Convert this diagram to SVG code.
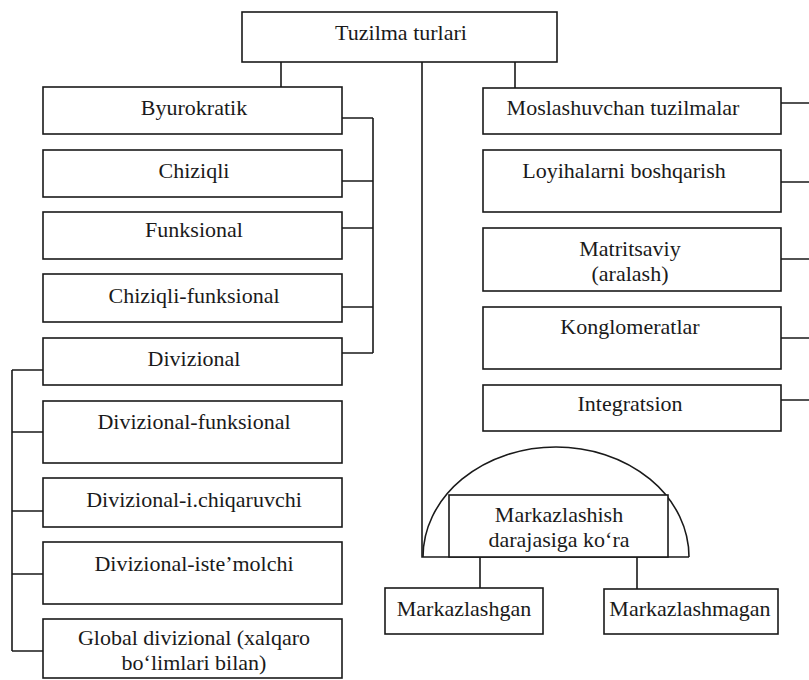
<svg xmlns="http://www.w3.org/2000/svg" width="809" height="680" viewBox="0 0 809 680">
<style>
.box{fill:#fff;stroke:#1a1a1a;stroke-width:1.6}
.ln{fill:none;stroke:#1a1a1a;stroke-width:1.6}
text{font-family:"Liberation Serif","Times New Roman",serif;font-size:22px;fill:#1a1a1a;text-anchor:middle}
</style>
<rect width="809" height="680" fill="#fff"/>
<g id="connectors">
<path class="ln" d="M281 62V87M515 62V88M422 62V557H689"/>
<path class="ln" d="M342 118H373M342 181H373M342 228H373M342 307H373M342 353H373M373 118V353"/>
<path class="ln" d="M43 370H12M43 432H12M43 511H12M43 574H12M43 651H12M12 370V651"/>
<path class="ln" d="M781 103H809M781 182H809M781 259H809M781 338H809M781 400H809"/>
<path class="ln" d="M423 557A133 110 0 0 1 689 557"/>
<path class="ln" d="M480 557V588M637 557V589"/>
</g>
<g id="n-root"><rect class="box" x="242" y="12" width="315" height="50"/><text x="401" y="40">Tuzilma turlari</text></g>
<g id="n-byurokratik"><rect class="box" x="43" y="87" width="299" height="47"/><text x="194" y="115">Byurokratik</text></g>
<g id="n-chiziqli"><rect class="box" x="43" y="150" width="299" height="47"/><text x="194" y="178">Chiziqli</text></g>
<g id="n-funksional"><rect class="box" x="43" y="212" width="299" height="47"/><text x="194" y="237">Funksional</text></g>
<g id="n-chiziqli-funksional"><rect class="box" x="43" y="274" width="299" height="48"/><text x="194" y="303">Chiziqli-funksional</text></g>
<g id="n-divizional"><rect class="box" x="43" y="338" width="299" height="47"/><text x="194" y="366">Divizional</text></g>
<g id="n-div-funksional"><rect class="box" x="43" y="401" width="299" height="62"/><text x="194" y="429">Divizional-funksional</text></g>
<g id="n-div-ichiqaruvchi"><rect class="box" x="43" y="478" width="299" height="49"/><text x="194" y="507">Divizional-i.chiqaruvchi</text></g>
<g id="n-div-istemolchi"><rect class="box" x="43" y="542" width="299" height="62"/><text x="194" y="571">Divizional-iste’molchi</text></g>
<g id="n-global"><rect class="box" x="43" y="619" width="299" height="59"/><text x="194" y="645">Global divizional (xalqaro</text><text x="194" y="670">bo‘limlari bilan)</text></g>
<g id="n-moslashuvchan"><rect class="box" x="483" y="88" width="298" height="46"/><text x="623" y="115">Moslashuvchan tuzilmalar</text></g>
<g id="n-loyihalarni"><rect class="box" x="483" y="150" width="298" height="62"/><text x="624" y="178">Loyihalarni boshqarish</text></g>
<g id="n-matritsaviy"><rect class="box" x="483" y="228" width="298" height="63"/><text x="630" y="256">Matritsaviy</text><text x="630" y="281">(aralash)</text></g>
<g id="n-konglomeratlar"><rect class="box" x="483" y="307" width="298" height="62"/><text x="630" y="334">Konglomeratlar</text></g>
<g id="n-integratsion"><rect class="box" x="483" y="385" width="298" height="46"/><text x="630" y="411">Integratsion</text></g>
<g id="n-markazlashish"><rect class="box" x="449" y="495" width="219" height="62"/><text x="559" y="522">Markazlashish</text><text x="559" y="547">darajasiga ko‘ra</text></g>
<g id="n-markazlashgan"><rect class="box" x="385" y="588" width="158" height="46"/><text x="464" y="616">Markazlashgan</text></g>
<g id="n-markazlashmagan"><rect class="box" x="604" y="589" width="174" height="45"/><text x="690" y="616">Markazlashmagan</text></g>
</svg>
